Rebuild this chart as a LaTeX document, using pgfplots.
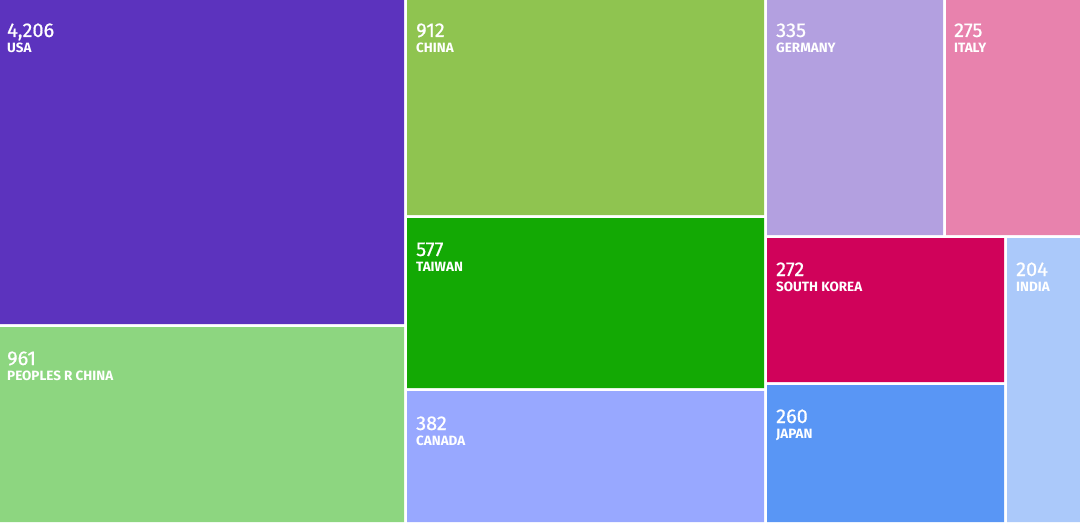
\documentclass[border=0pt]{standalone}
\usepackage{pgfplots}
\pgfplotsset{compat=1.18}
\usepackage{fontspec}
\setmainfont{Fira Sans}
\newfontfamily\numfont{Fira Sans}[FakeBold=0.6]
\definecolor{cUSA}{HTML}{5C33BE}
\definecolor{cPRC}{HTML}{8DD680}
\definecolor{cCHN}{HTML}{8FC450}
\definecolor{cTWN}{HTML}{13A904}
\definecolor{cCAN}{HTML}{98A8FF}
\definecolor{cGER}{HTML}{B3A0E0}
\definecolor{cITA}{HTML}{E882AD}
\definecolor{cKOR}{HTML}{D0025A}
\definecolor{cJPN}{HTML}{5996F5}
\definecolor{cIND}{HTML}{ABC9FA}
\newcommand{\tmlabel}[4]{%
  \node[anchor=base west, text=white, font=\numfont\fontsize{20}{20}\selectfont, inner sep=0pt] at (axis cs:#1,#2) {#3};
  \node[anchor=base west, text=white, font=\fontsize{13.5}{13.5}\selectfont\bfseries, inner sep=0pt] at (axis cs:#1,#2+15.5) {#4};
}
\begin{document}
\begin{tikzpicture}
\begin{axis}[
  scale only axis, width=1080bp, height=522bp,
  xmin=0, xmax=1080, ymin=0, ymax=522, y dir=reverse,
  hide axis, clip=true,
]
% rectangles (x0,y0)-(x1,y1) in pixel units
\addplot[fill=cUSA, draw=none] coordinates {(0,0) (404,0) (404,324) (0,324) (0,0)};
\addplot[fill=cPRC, draw=none] coordinates {(0,327) (404,327) (404,522) (0,522) (0,327)};
\addplot[fill=cCHN, draw=none] coordinates {(407,0) (764,0) (764,215) (407,215) (407,0)};
\addplot[fill=cTWN, draw=none] coordinates {(407,218) (764,218) (764,388) (407,388) (407,218)};
\addplot[fill=cCAN, draw=none] coordinates {(407,391) (764,391) (764,522) (407,522) (407,391)};
\addplot[fill=cGER, draw=none] coordinates {(767,0) (943,0) (943,235) (767,235) (767,0)};
\addplot[fill=cITA, draw=none] coordinates {(946,0) (1080,0) (1080,235) (946,235) (946,0)};
\addplot[fill=cKOR, draw=none] coordinates {(767,238) (1004,238) (1004,382) (767,382) (767,238)};
\addplot[fill=cJPN, draw=none] coordinates {(767,385) (1004,385) (1004,522) (767,522) (767,385)};
\addplot[fill=cIND, draw=none] coordinates {(1007,238) (1080,238) (1080,522) (1007,522) (1007,238)};
\tmlabel{7}{37}{4,206}{USA}
\tmlabel{7}{365}{961}{PEOPLES R CHINA}
\tmlabel{416}{37}{912}{CHINA}
\tmlabel{416}{256}{577}{TAIWAN}
\tmlabel{416}{430}{382}{CANADA}
\tmlabel{776}{37}{335}{GERMANY}
\tmlabel{954}{37}{275}{ITALY}
\tmlabel{776}{276}{272}{SOUTH KOREA}
\tmlabel{776}{423}{260}{JAPAN}
\tmlabel{1016}{276}{204}{INDIA}
\end{axis}
\end{tikzpicture}
\end{document}
